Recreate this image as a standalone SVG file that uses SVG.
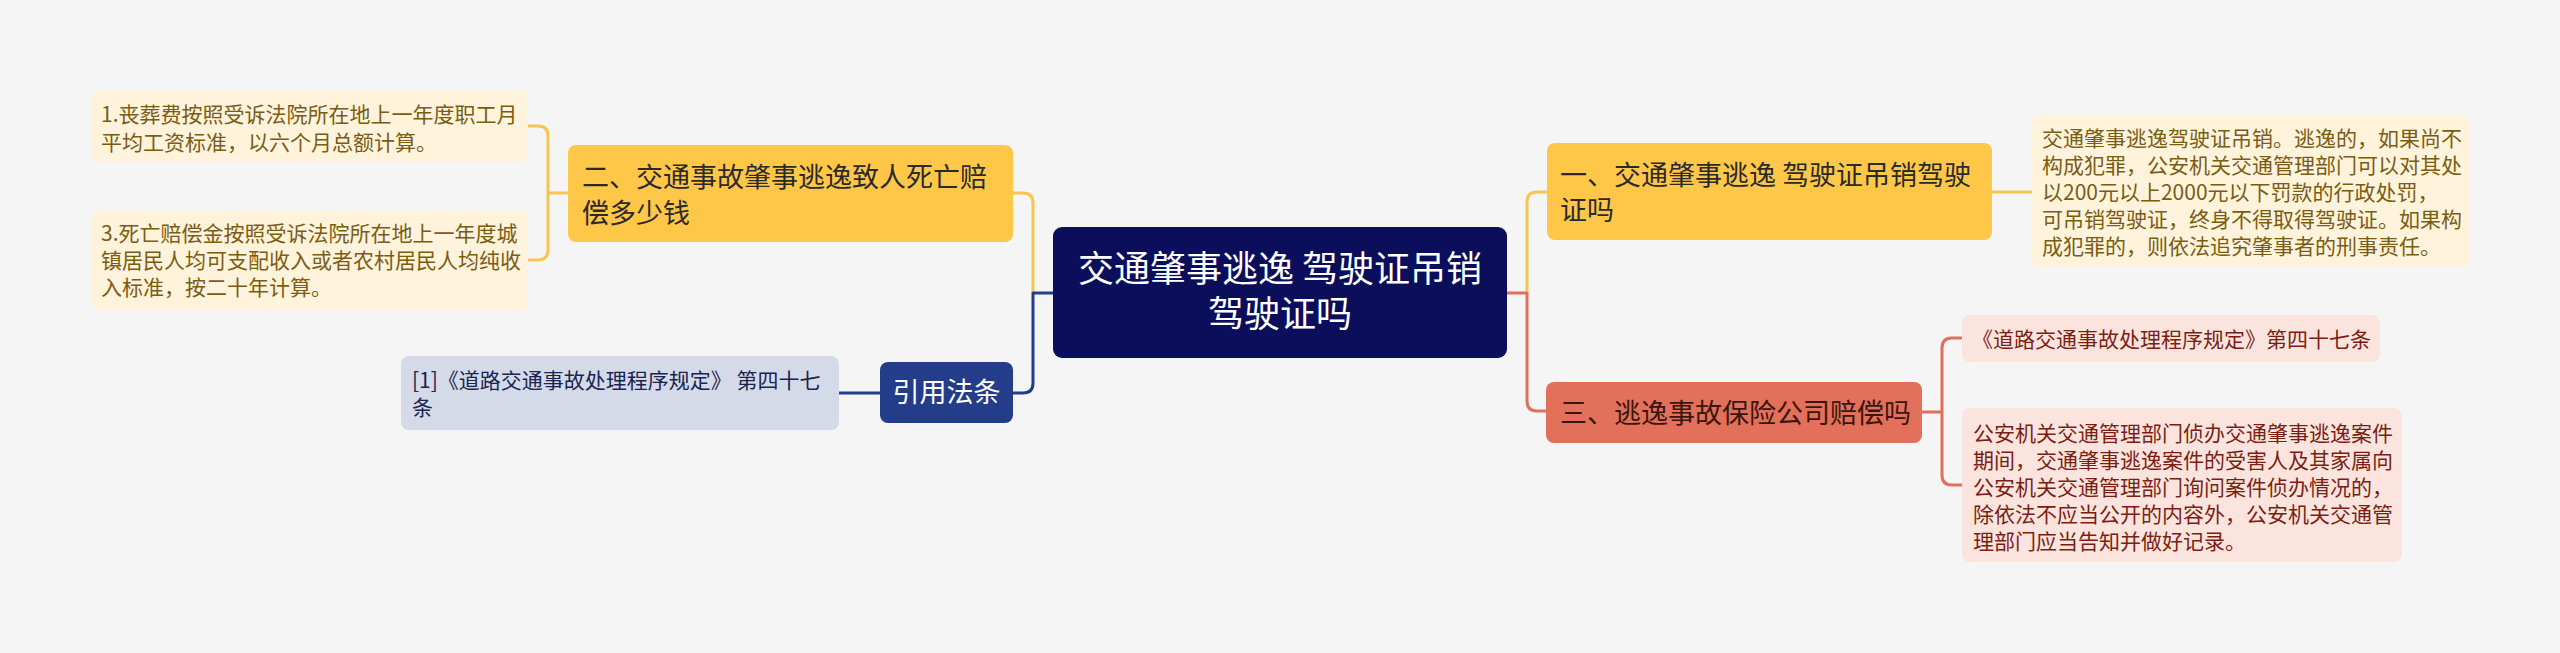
<svg xmlns="http://www.w3.org/2000/svg" width="2560" height="653" viewBox="0 0 2560 653">
<style>
text{font-family:"Noto Sans CJK SC","Noto Sans",sans-serif}
.c{fill:none;stroke-width:3;stroke-linecap:round;stroke-linejoin:round}
.cy{stroke:#F8C650}
.cr{stroke:#E0705B}
.cn{stroke:#233D8B}
.root{fill:#0B0E5A}
.rt{fill:#FFFFFF;font-size:36px}
.ny{fill:#FFC747}
.nyt{fill:#2A2A2A;font-size:27px}
.nr{fill:#E3705A}
.nrt{fill:#3A1610;font-size:27px}
.nb{fill:#233D8B}
.nbt{fill:#FFFFFF;font-size:27px}
.ly{fill:#FFF3DC}
.lyt{fill:#7A5C12;font-size:21px}
.lr{fill:#FBE4DE}
.lrt{fill:#7B1E12;font-size:21px}
.lb{fill:#D4DAE8}
.lbt{fill:#1B2450;font-size:21px}
</style>
<rect width="2560" height="653" fill="#F5F5F5"/>
<g id="connectors">
<path class="c cy" d="M528,126 H538 Q548,126 548,136 V250 Q548,260 538,260 H528 M548,193 H568"/>
<path class="c cy" d="M1013,193 H1023 Q1033,193 1033,203 V293"/>
<path class="c cn" d="M1053,293 H1033 V383 Q1033,393 1023,393 H1013"/>
<path class="c cn" d="M839,393 H880"/>
<path class="c cy" d="M1527,293 V202 Q1527,192 1537,192 H1547"/>
<path class="c cr" d="M1507,293 H1527 V401 Q1527,411 1537,411 H1546"/>
<path class="c cy" d="M1992,192 H2032"/>
<path class="c cr" d="M1922,412 H1942 M1942,412 V348 Q1942,338 1952,338 H1962 M1942,412 V475 Q1942,485 1952,485 H1962"/>
</g>
<g id="root">
<rect class="root" x="1053" y="227" width="454" height="131" rx="9"/>
<text class="rt" x="1280" y="282" text-anchor="middle">交通肇事逃逸 驾驶证吊销</text>
<text class="rt" x="1280" y="327" text-anchor="middle">驾驶证吗</text>
</g>
<g id="n2">
<rect class="ny" x="568" y="145" width="445" height="97" rx="8"/>
<text class="nyt" x="582" y="187">二、交通事故肇事逃逸致人死亡赔</text>
<text class="nyt" x="582" y="223">偿多少钱</text>
</g>
<g id="leaf1">
<rect class="ly" x="91" y="90" width="437" height="72" rx="8"/>
<text class="lyt" x="101" y="122">1.丧葬费按照受诉法院所在地上一年度职工月</text>
<text class="lyt" x="101" y="150">平均工资标准，以六个月总额计算。</text>
</g>
<g id="leaf3">
<rect class="ly" x="91" y="210" width="437" height="100" rx="8"/>
<text class="lyt" x="101" y="241">3.死亡赔偿金按照受诉法院所在地上一年度城</text>
<text class="lyt" x="101" y="268">镇居民人均可支配收入或者农村居民人均纯收</text>
<text class="lyt" x="101" y="295">入标准，按二十年计算。</text>
</g>
<g id="cite">
<rect class="nb" x="880" y="362" width="133" height="61" rx="8"/>
<text class="nbt" x="946.5" y="402" text-anchor="middle">引用法条</text>
</g>
<g id="citeleaf">
<rect class="lb" x="401" y="356" width="438" height="74" rx="8"/>
<text class="lbt" x="412" y="388">[1]《道路交通事故处理程序规定》 第四十七</text>
<text class="lbt" x="412" y="415">条</text>
</g>
<g id="n1">
<rect class="ny" x="1547" y="143" width="445" height="97" rx="8"/>
<text class="nyt" x="1560" y="185">一、交通肇事逃逸 驾驶证吊销驾驶</text>
<text class="nyt" x="1560" y="220">证吗</text>
</g>
<g id="leaf6">
<rect class="ly" x="2032" y="115" width="438" height="152" rx="8"/>
<text class="lyt" x="2042" y="146">交通肇事逃逸驾驶证吊销。逃逸的，如果尚不</text>
<text class="lyt" x="2042" y="173">构成犯罪，公安机关交通管理部门可以对其处</text>
<text class="lyt" x="2042" y="200">以200元以上2000元以下罚款的行政处罚，</text>
<text class="lyt" x="2042" y="227">可吊销驾驶证，终身不得取得驾驶证。如果构</text>
<text class="lyt" x="2042" y="254">成犯罪的，则依法追究肇事者的刑事责任。</text>
</g>
<g id="n3">
<rect class="nr" x="1546" y="382" width="376" height="61" rx="8"/>
<text class="nrt" x="1560" y="423">三、逃逸事故保险公司赔偿吗</text>
</g>
<g id="leaf7">
<rect class="lr" x="1962" y="315" width="418" height="47" rx="8"/>
<text class="lrt" x="1972" y="347">《道路交通事故处理程序规定》第四十七条</text>
</g>
<g id="leaf8">
<rect class="lr" x="1962" y="408" width="440" height="154" rx="8"/>
<text class="lrt" x="1973" y="441">公安机关交通管理部门侦办交通肇事逃逸案件</text>
<text class="lrt" x="1973" y="468">期间，交通肇事逃逸案件的受害人及其家属向</text>
<text class="lrt" x="1973" y="495">公安机关交通管理部门询问案件侦办情况的，</text>
<text class="lrt" x="1973" y="522">除依法不应当公开的内容外，公安机关交通管</text>
<text class="lrt" x="1973" y="549">理部门应当告知并做好记录。</text>
</g>
</svg>
